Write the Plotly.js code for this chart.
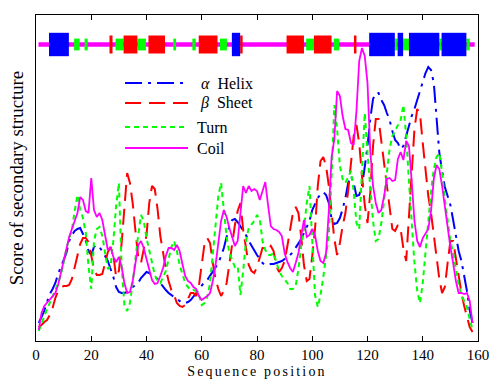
<!DOCTYPE html>
<html><head><meta charset="utf-8">
<script src="https://cdn.plot.ly/plotly-3.0.1.min.js"></script>
<style>
html,body{margin:0;padding:0;background:#fff;}
#chart{width:500px;height:385px;}
.xtitle{letter-spacing:2.2px;}
</style></head><body>
<div id="chart"></div>
<script>
// Per-residue secondary structure scores
const helix = [
 18, 24, 30, 39, 47, 52, 58, 67, 75, 81,
 88,100,106,110,112,113,107,100, 90, 86,
 94, 96, 94, 90, 85, 80, 73, 64, 54, 49,
 48, 48, 49, 52, 54, 56, 58, 63, 66, 69,
 68, 66, 64, 62, 58, 54, 51, 48, 46, 44,
 42, 40, 38, 38, 39, 41, 44, 48, 52, 56,
 59, 61, 65, 70, 74, 78, 85, 93,104,115,
121,122,119,115,111,106,100, 95, 90, 86,
 82, 78, 76, 76, 77, 77, 78, 79, 80, 82,
 84, 86, 89, 93, 97,102,108,114,120,131,
138,143,147,149,146,138,122,117,118,123,
132,143,158,165,158,145,146,155,174,195,
222,242,248,248,241,236,228,221,210,201,
198,192,195,205,216,225,232,241,250,259,
268,274,271,258,224,188,170,154,145,136,
121,105, 90, 80, 66, 50, 31, 18];
const sheet = [
 14, 16, 19, 21, 26, 33, 43, 50, 53, 55,
 55, 56, 62, 74, 86, 97,103,103, 99, 87,
 72, 66, 66, 67, 77, 89, 94, 86, 64, 70,
 98,135,168,158,138,110, 84, 78, 92,106,
138,155,152,132,105, 86, 72, 60, 51, 46,
 38, 35, 34, 36, 42, 48, 48, 45, 56, 78,
 97,103, 98, 78, 62, 52, 45, 50, 58, 77,
 99,116,130,138,111, 92, 76, 70, 68, 74,
 84, 93, 93, 91, 95, 90, 75, 69, 73, 80,
 95,114,128,134,128,104, 76, 60, 62, 85,
112,155,180,184,175,155,126,102, 86, 98,
115,128,150,180,205,216,198,165,136,118,
148,195,222,222,200,178,150,128,112,110,
116,112, 92, 80,125,172,212,232,227,198,
170,145,128,106, 86, 62, 48, 54, 78,100,
100, 82, 62, 48, 35, 24, 14,  9];
const turn = [
 10, 18, 26, 32, 38, 44, 51, 58, 66, 78,
 92,102,111,130,146,131,123,108, 75, 52,
100,112,114,105, 86, 72, 75,100,135,158,
 75, 36, 30, 38, 58, 84,106,126,120,103,
 90, 78, 66, 60, 58, 64, 70, 82, 94,100,
 90, 76, 66, 58, 54, 51, 51, 50, 46, 36,
 38, 44, 58, 86,115,145,158,130,104, 88,
 80, 74, 75, 46, 70,100,113,117,120,126,
122,100, 91, 86, 86, 88, 80, 70, 65, 62,
 58, 52, 52, 55, 72, 95,112,138,155,100,
 46, 34, 46, 64, 88,106,165,236,212,175,
162,158,164,170,150,118,112,170,228,188,
152,120,100,102,118,140,168,192,205,210,
215,221,236,205,160,120, 78, 50, 38, 58,
 90,120,150,172,184,188,168,142,118,100,
 88, 70, 56, 46, 40, 34, 22, 11];
const coil = [
 11, 28, 35, 38, 41, 44, 48, 56, 68, 81,
 93,104,112,119,128,144,141,130,128,163,
131,124,128,121,104, 91, 94, 84, 79, 84,
 74, 58, 48, 49, 60, 80, 96,100, 93, 82,
 71, 61, 57, 58, 65, 73, 85, 93, 93, 91,
 96, 90, 77, 65, 60, 58, 54, 52, 45, 41,
 43, 45, 48, 60, 76, 98,120,131,124,113,
104, 95,100,125,155,148,155,150,152,150,
141,150,159,136,115,112,111,109,105, 88,
 79, 73, 69, 78, 88,105,121,104,106,112,
106, 90, 80, 78, 88,130,184,202,250,245,
225,212,211,198,196,230,280,293,285,258,
190,155,138,128,131,145,162,163,160,161,
182,189,181,200,195,160,120,100, 94,103,
108,112,130,162,176,172,155,134,115, 94,
 78, 60, 48, 48, 47, 48, 40, 18];

// Predicted secondary structure track: [start, end] along the sequence
const helixSegs = [[4.7,11.9],[70.9,73.9],[120.6,129.9],[130.9,132.9],[135,146],[146.8,155.8]];
const sheetSegs = [[26.6,27.7],[31.7,36.7],[40.7,46.7],[58.9,65.7],[73.9,74.8],[90.7,97],[100.6,107],[115.1,116]];
const turnSegs  = [[13.8,15.8],[17.6,18.7],[28.8,31.7],[36.7,39.8],[49.7,50.7],[56.6,57.8],[66.6,69.1],[97.8,100.6],[107.8,109.8],[129.9,130.9],[132.9,135],[146,146.8],[155.8,157]];
const coilSpan  = [0.9, 158.8];

const seriesNames = ['\u00a0<i>\u03b1</i>\u00a0\u00a0Helix', '\u00a0<i>\u03b2</i>\u00a0\u00a0Sheet', 'Turn', 'Coil'];
const xTicks = [0, 20, 40, 60, 80, 100, 120, 140, 160];

const positions = [];
for (let i = 1; i <= coil.length; i++) positions.push(i);

const SERIF = 'Liberation Serif';
const styles = [
  {color:'#0000FF', dash:'17px,6px,3px,6px', width:2},
  {color:'#FF0000', dash:'16px,8px', width:2},
  {color:'#00FF00', dash:'5px,4px', width:2},
  {color:'#FF00FF', dash:'solid', width:1.8}
];
const values = [helix, sheet, turn, coil];
const traces = values.map((v, k) => ({
  x: positions, y: v, type:'scatter', mode:'lines', name: seriesNames[k],
  line: {color: styles[k].color, dash: styles[k].dash, width: styles[k].width}
}));

// track levels (layout)
const trackMid = 296.5;
const shapes = [];
shapes.push({type:'line', xref:'x', yref:'y', x0:coilSpan[0], x1:coilSpan[1], y0:trackMid, y1:trackMid,
  line:{color:'#FF00FF', width:4.5}});
function addBoxes(segs, half, color) {
  segs.forEach(s => shapes.push({type:'rect', xref:'x', yref:'y', x0:s[0], x1:s[1],
    y0:trackMid-half, y1:trackMid+half, fillcolor:color, line:{width:0}}));
}
addBoxes(turnSegs, 5.9, '#00FF00');
addBoxes(sheetSegs, 9, '#FF0000');
addBoxes(helixSegs, 11.7, '#0000FF');

// legend (drawn in paper coordinates)
const legRows = [0.7914, 0.7301, 0.6564, 0.5920];
const legX0 = 0.2014, legX1 = 0.3439, legTextX = 0.3600;
const annotations = [];
legRows.forEach((yy, k) => {
  shapes.push({type:'line', xref:'paper', yref:'paper', x0:legX0, x1:legX1, y0:yy, y1:yy,
    line:{color:styles[k].color, dash:styles[k].dash, width:2}});
  annotations.push({xref:'paper', yref:'paper', x:legTextX, y:yy, xanchor:'left', yanchor:'middle',
    text:seriesNames[k], showarrow:false, font:{size:16, family:SERIF, color:'#000'}});
});

const layout = {
  width:500, height:385,
  margin:{l:36, r:22, t:15, b:44},
  paper_bgcolor:'#fff', plot_bgcolor:'#fff',
  showlegend:false,
  font:{family:SERIF, color:'#000'},
  xaxis:{range:[0,160], tickvals:xTicks, ticktext:xTicks.map(String), ticks:'inside', ticklen:5, tickcolor:'#000',
    showline:true, linecolor:'#000', linewidth:1, mirror:'ticks', showgrid:false, zeroline:false,
    tickfont:{size:15, family:SERIF, color:'#000'},
    title:{text:'Sequence position', font:{size:14, family:SERIF, color:'#000'}, standoff:4}},
  yaxis:{range:[0,326], showticklabels:false, ticks:'', showline:true, linecolor:'#000', linewidth:1, mirror:true,
    showgrid:false, zeroline:false,
    title:{text:'Score of secondary structure', font:{size:18.8, family:SERIF, color:'#000'}, standoff:6}},
  shapes: shapes,
  annotations: annotations
};
Plotly.newPlot('chart', traces, layout, {staticPlot:true, displayModeBar:false});
</script>
</body></html>
